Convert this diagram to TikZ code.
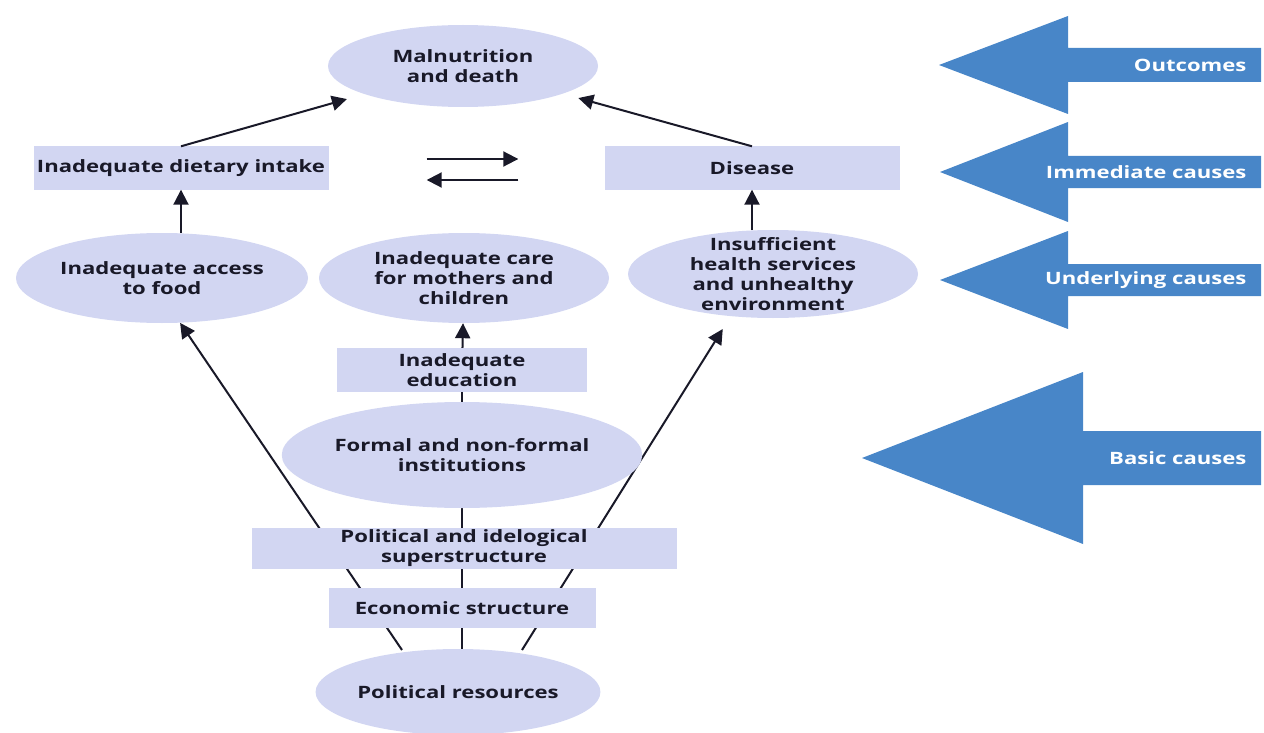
\documentclass[tikz,border=0pt]{standalone}
\usepackage{fontspec}
\newfontfamily\diagfont[FakeStretch=1.3]{Open Sans}
\usetikzlibrary{arrows.meta, shapes.geometric, backgrounds}
\definecolor{NodeLilac}{RGB}{210,214,242}
\definecolor{LevelBlue}{RGB}{72,134,200}
\definecolor{InkDark}{RGB}{25,25,40}

\begin{document}
\begin{tikzpicture}[x=1pt, y=-1pt,
    box/.style={rectangle, fill=NodeLilac, inner sep=0pt, text=InkDark,
                font=\diagfont\fontsize{17}{20}\selectfont\bfseries, align=center},
    oval/.style={ellipse, fill=NodeLilac, inner sep=0pt, text=InkDark,
                 font=\diagfont\fontsize{17}{20}\selectfont\bfseries, align=center},
    arr/.style={-{Triangle[length=15pt, width=15pt]}, line width=2pt, InkDark},
    link/.style={line width=2pt, InkDark},
    lvl/.style={text=white, font=\diagfont\fontsize{17}{20}\selectfont\bfseries, anchor=east}]
  \useasboundingbox (0,0) rectangle (1264,733);

  % outcome and immediate causes
  \node[oval, minimum width=270, minimum height=82] (mal) at (463,66)
        {Malnutrition\\and death};
  \node[box, minimum width=295, minimum height=43] (diet) at (181,168)
        {Inadequate dietary intake};
  \node[box, minimum width=295, minimum height=43] (dis) at (752,168)
        {Disease};

  % underlying causes
  \node[oval, minimum width=292, minimum height=90] (food) at (162,278)
        {Inadequate access\\to food};
  \node[oval, minimum width=290, minimum height=90] (care) at (464,278)
        {Inadequate care\\for mothers and\\children};
  \node[oval, inner ysep=-10pt, minimum width=290, minimum height=88] (health) at (773,274)
        {Insufficient\\health services\\and unhealthy\\environment};

  % basic causes
  \node[box, minimum width=250, minimum height=44] (edu) at (462,370)
        {Inadequate\\education};
  \node[oval, minimum width=354, minimum height=106] (inst) at (462,455)
        {Formal and non-formal\\institutions};
  \node[box, minimum width=425, minimum height=41] (sup) at (464,548)
        {Political and idelogical\\superstructure};
  \node[box, minimum width=267, minimum height=40] (eco) at (462,608)
        {Economic structure};
  \node[oval, minimum width=280, minimum height=86] (res) at (458,692)
        {Political resources};

  \coordinate (resL) at (402,650);
  \coordinate (resR) at (522,650);

  % connectors
  \draw[arr, shorten >=18pt] (diet.north) -- (mal);
  \draw[arr, shorten >=16pt] (dis.north) -- (mal);
  \draw[arr, shorten <=98pt, shorten >=86pt] ([yshift=9pt]diet.east) -- ([yshift=9pt]dis.west);
  \draw[arr, shorten <=86pt, shorten >=98pt] ([yshift=-12pt]dis.west) -- ([yshift=-12pt]diet.east);
  \draw[arr] (diet.south |- food.north) -- (diet.south);
  \draw[arr] (dis.south |- health.north) -- (dis.south);
  \draw[arr] (edu) -- (care);
  \begin{scope}[on background layer]
    \draw[link] (edu.south) -- (edu.south |- res.north);
    \draw[arr] (resL) -- (food.-68);
    \draw[arr, shorten >=15pt] (resR) -- (health.-135);
  \end{scope}

  % level arrows on the right
  \foreach \tx/\ty/\bx/\hh/\sh/\lab in {939/65/1068/49/17/Outcomes,
      940/172/1068/50/16/Immediate causes, 940/280/1068/49/16/Underlying causes,
      862/458/1083/86/27/Basic causes} {
    \fill[LevelBlue] (1261,\ty-\sh) -- (\bx,\ty-\sh) -- (\bx,\ty-\hh) -- (\tx,\ty)
      -- (\bx,\ty+\hh) -- (\bx,\ty+\sh) -- (1261,\ty+\sh) -- cycle;
    \node[lvl] (lvl-\ty) at (1250,\ty) {\lab};
  }
\end{tikzpicture}
\end{document}
